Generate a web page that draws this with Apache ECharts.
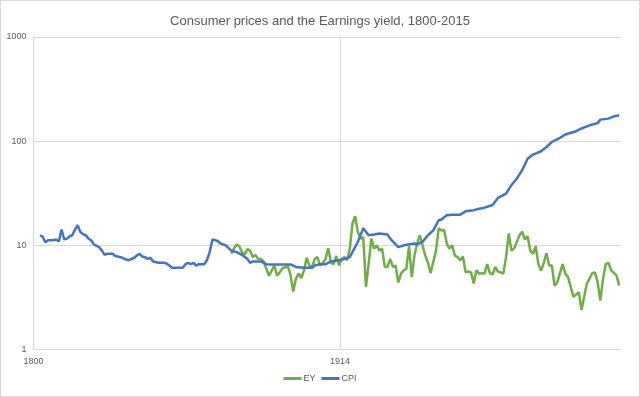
<!DOCTYPE html>
<html lang="en">
<head>
  <meta charset="UTF-8">
  <script src="https://cdn.jsdelivr.net/npm/echarts@6/dist/echarts.min.js"></script>
  <title>Consumer prices and the Earnings yield</title>
  <style>
    html, body { margin: 0; padding: 0; background: #fff; }
    #wrap { position: relative; width: 640px; height: 397px; }
    #main { width: 640px; height: 397px; }
    #frame { position: absolute; left: 0; top: 0; width: 640px; height: 397px;
             box-sizing: border-box; border: 1px solid #d9d9d9; pointer-events: none; }
  </style>
</head>
<body>
  <div id="wrap">
    <div id="main"></div>
    <div id="frame"></div>
  </div>
  <script>
    // CPI
    var cpiYears = [1800,1801,1802,1803,1805,1806,1807,1808,1809,1810,
      1811,1812,1813,1814,1815,1816,1817,1818,1819,1820,
      1821,1822,1823,1824,1825,1827,1828,1830,1832,1833,
      1835,1836,1837,1838,1839,1840,1841,1842,1844,1846,
      1847,1848,1849,1853,1854,1855,1856,1857,1858,1859,
      1861,1862,1863,1864,1866,1867,1869,1870,1871,1873,
      1875,1877,1878,1879,1882,1884,1887,1893,1895,1898,
      1901,1902,1904,1906,1908,1911,1913,1915,1918,1920,
      1922,1924,1926,1929,1930,1933,1935,1939,1940,1942,
      1944,1946,1948,1949,1951,1953,1956,1958,1961,1963,
      1965,1968,1970,1973,1975,1977,1979,1981,1983,1986,
      1988,1990,1993,1995,1999,2001,2004,2007,2008,2011,
      2013,2015];
    var cpiValues = [12.5,12.1,10.7,11.2,11.2,11.4,10.9,14.2,11.4,11.6,
      12.2,12.5,14.2,15.6,13.4,12.8,12.5,11.6,11.2,10.2,
      9.9,9.6,8.9,8.1,8.3,8.3,7.9,7.7,7.3,7.2,
      7.6,8.0,8.3,7.8,7.7,7.4,7.6,7.0,6.8,6.8,
      6.7,6.4,6.1,6.1,6.6,6.8,6.6,6.8,6.4,6.6,
      6.6,7.2,8.6,11.4,11.0,10.4,10.0,9.4,8.9,8.6,
      8.1,7.4,6.8,7.0,7.0,6.6,6.55,6.55,6.2,6.1,
      6.1,6.4,6.6,6.6,7.0,7.2,7.4,7.7,10.8,14.6,
      12.5,12.7,13.0,12.7,11.6,9.6,10.0,10.4,10.2,10.8,
      12.5,13.9,17.4,17.7,19.4,19.7,19.7,21.2,21.7,22.5,
      23.0,24.4,28.5,31.4,37.8,43.8,52.7,67.8,74.4,80,
      87.9,98.2,107.6,116,124.6,132.4,142,149,161,164.6,
      173,177];

    // Earnings yield
    var eyYears = [1871,1872,1873,1874,1875,1876,1877,1878,1879,1880,
      1881,1882,1883,1884,1885,1886,1887,1888,1889,1890,
      1892,1893,1894,1895,1896,1897,1898,1899,1900,1901,
      1902,1903,1904,1905,1906,1907,1908,1909,1910,1911,
      1912,1913,1914,1915,1916,1917,1918,1919,1920,1921,
      1922,1923,1924,1925,1926,1927,1928,1929,1930,1931,
      1932,1933,1934,1935,1936,1937,1938,1939,1940,1941,
      1942,1943,1944,1945,1947,1948,1949,1950,1951,1952,
      1953,1954,1955,1956,1957,1958,1959,1960,1961,1962,
      1963,1964,1965,1966,1967,1968,1969,1970,1971,1972,
      1973,1974,1975,1976,1977,1978,1979,1980,1981,1982,
      1983,1984,1985,1986,1987,1988,1989,1990,1991,1992,
      1994,1995,1996,1997,1998,2000,2001,2003,2004,2005,
      2006,2007,2008,2009,2010,2011,2012,2014,2015];
    var eyValues = [8.3,9.3,10.2,9.8,8.6,8.2,9.2,8.9,7.7,8.1,
      7.4,7.4,7.0,6.0,5.1,5.7,6.4,5.1,5.5,6.0,
      6.3,5.2,3.6,4.8,5.35,4.85,5.75,7.6,6.4,6.2,
      7.4,7.7,6.4,6.8,7.4,9.4,6.8,6.6,7.9,6.4,
      7.4,7.7,7.2,9.3,16.2,19.0,13.4,11.6,12.0,4.0,
      6.6,11.6,9.3,10.0,8.9,9.3,6.2,6.2,7.4,6.2,
      6.4,4.4,5.35,5.75,5.95,9.8,4.96,8.0,10.4,12.5,
      10.0,8.0,6.8,5.4,8.9,14.6,13.9,14.1,10.4,9.3,
      10.0,8.0,7.7,7.2,7.8,5.5,5.6,5.5,4.3,5.75,
      5.35,5.4,5.35,6.6,5.4,5.25,6.2,5.6,5.5,5.35,
      7.7,13.0,8.9,9.3,10.8,12.5,13.5,11.4,12.2,8.9,
      8.3,9.8,6.6,5.7,6.8,8.4,6.4,6.4,4.1,4.4,
      6.6,5.35,4.96,4.0,3.2,3.55,2.4,4.3,4.8,5.4,
      5.5,4.4,2.95,4.8,6.6,6.8,5.75,5.15,4.1];

    // axis labels as printed under the plot
    var xLabelStart = 1800;
    var xLabelStep = 114;
    var yTicks = [1, 10, 100, 1000];

    function pairs(xs, ys) {
      return xs.map(function (x, i) { return [x, ys[i]]; });
    }

    var myChart = echarts.init(document.getElementById('main'));
    var textColor = '#595959';
    var gridColor = '#d9d9d9';
    var font = 'Liberation Sans Narrow, Liberation Sans, sans-serif';

    myChart.setOption({
      animation: false,
      backgroundColor: '#fff',
      textStyle: { fontFamily: font },
      title: {
        text: 'Consumer prices and the Earnings yield, 1800-2015',
        left: 'center',
        top: 10,
        textStyle: { fontSize: 13, fontWeight: 'normal', color: textColor, fontFamily: font }
      },
      legend: {
        bottom: 9,
        left: 'center',
        icon: 'rect',
        itemWidth: 18,
        itemHeight: 3,
        itemGap: 6,
        textStyle: { fontSize: 9, color: textColor, padding: [0, 0, 0, -3] },
        data: ['EY', 'CPI']
      },
      grid: { left: 33.5, right: 20, top: 37, bottom: 47.5, outerBoundsMode: 'none' },
      xAxis: [
        {
          // axis that positions the data points
          type: 'value',
          min: 1797.6,
          max: 2015.3,
          show: false
        },
        {
          // the printed year labels and the gridline under 1914
          type: 'value',
          position: 'bottom',
          min: 0,
          max: 218.1,
          interval: xLabelStep,
          axisLine: { show: true, lineStyle: { color: gridColor } },
          axisTick: { show: false },
          axisLabel: {
            fontSize: 9, color: textColor, margin: 8, showMaxLabel: false,
            formatter: function (v) { return String(xLabelStart + v); }
          },
          splitLine: { show: true, showMaxLine: false, lineStyle: { color: gridColor } }
        }
      ],
      yAxis: {
        type: 'log',
        logBase: 10,
        min: yTicks[0],
        max: yTicks[yTicks.length - 1],
        axisLine: { show: true, lineStyle: { color: gridColor } },
        axisTick: { show: false },
        axisLabel: {
          fontSize: 9, color: textColor, margin: 7,
          formatter: function (v) { return String(Math.round(v)); }
        },
        splitLine: { show: true, lineStyle: { color: gridColor } }
      },
      series: [
        {
          name: 'EY',
          type: 'line',
          xAxisIndex: 0,
          data: pairs(eyYears, eyValues),
          showSymbol: false,
          lineStyle: { color: '#70AD47', width: 2.5 },
          itemStyle: { color: '#70AD47' }
        },
        {
          name: 'CPI',
          type: 'line',
          xAxisIndex: 0,
          data: pairs(cpiYears, cpiValues),
          showSymbol: false,
          lineStyle: { color: '#4472C4', width: 2.5 },
          itemStyle: { color: '#4472C4' }
        }
      ]
    });
  </script>
</body>
</html>
